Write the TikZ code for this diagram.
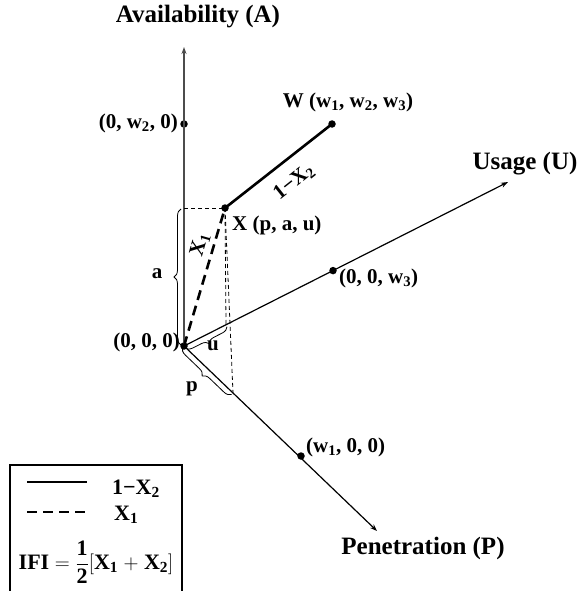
\documentclass[tikz,border=0pt]{standalone}
\usepackage{fontspec}
\setmainfont{Liberation Serif}
\usetikzlibrary{decorations.pathreplacing,arrows.meta,calc}
\tikzset{
  dot/.style={circle,fill=black,inner sep=0pt,minimum size=7.5pt},
  lab/.style={font=\fontsize{21}{24}\selectfont\bfseries,inner sep=1pt},
  biglab/.style={font=\fontsize{25}{28}\selectfont\bfseries,inner sep=1pt},
  leglab/.style={font=\fontsize{22}{25}\selectfont\bfseries,inner sep=1pt},
  axis/.style={line width=1.2pt,-{Stealth[length=7pt,width=5pt]}},
  proj/.style={line width=0.8pt,dash pattern=on 4pt off 3pt},
  vec/.style={line width=2.6pt},
  vecd/.style={line width=2.6pt,dash pattern=on 10pt off 6pt},
  brc/.style={decorate,decoration={brace,amplitude=7pt},line width=0.8pt},
}
\begin{document}
\begin{tikzpicture}[x=1pt,y=-1pt]
\useasboundingbox (0,0) rectangle (584,591);
% points
\node[dot] (O) at (184,346) {};
\node[dot] (W) at (332,124) {};
\node[dot] (X) at (225,208) {};
\node[dot] (A2) at (184,124) {};
\node[dot] (U3) at (333,270.6) {};
\node[dot] (P1) at (301,456) {};
\coordinate (Atip) at (184,47);
\coordinate (Utip) at (508,182);
\coordinate (Ptip) at (377,531);
\coordinate (Xa) at (184,208);
\coordinate (Xu) at (226,324.7);
\coordinate (Xp) at (233,393);
% axes
\draw[axis,draw=black!70,line width=1.6pt] (O.center) -- (Atip);
\draw[axis] (O.center) -- (Utip);
\draw[axis] (O.center) -- (Ptip);
% projections
\draw[proj] (Xa) -- (X.center);
\draw[proj] (X.center) -- (Xu);
\draw[proj] (X.center) -- (Xp);
% vectors
\draw[vec] (X.center) -- (W.center);
\draw[vecd] (O.center) -- (X.center);
% braces
\draw[brc] (181,345) -- (181,209);
\draw[brc] ($(Xu)+(1,2)$) -- ($(O.center)+(1,2)$);
\draw[brc] ($(Xp)+(-1.5,1.5)$) -- ($(O.center)+(-1.5,1.5)$);
% labels
\node[biglab] (Alab) at (198,17) {Availability (A)};
\node[biglab] (Ulab) at (525,164) {Usage (U)};
\node[biglab] (Plab) at (423,548) {Penetration (P)};
\node[lab,anchor=east] (A2lab) at (179,123) {(0, w\textsubscript{2}, 0)};
\node[lab] (Wlab) at (348,102) {W (w\textsubscript{1}, w\textsubscript{2}, w\textsubscript{3})};
\node[lab,anchor=west] (Xlab) at (231,225) {X (p, a, u)};
\node[lab,anchor=west] (U3lab) at (338,278) {(0, 0, w\textsubscript{3})};
\node[lab,anchor=west] (P1lab) at (305,447) {(w\textsubscript{1}, 0, 0)};
\node[lab,anchor=east] (Olab) at (181,342) {(0, 0, 0)};
\node[lab] (alab) at (157,274) {a};
\node[lab] (ulab) at (213,346) {u};
\node[lab] (plab) at (192,389) {p};
\node[lab,rotate=74] (x1lab) at (200,245) {X\textsubscript{1}};
\node[lab,rotate=38.5] (x2lab) at (294,182) {1−X\textsubscript{2}};
% legend
\draw[line width=2.2pt] (10,596) -- (10,465) -- (182,465) -- (182,596);
\coordinate (L1a) at (27,482); \coordinate (L1b) at (87,482);
\coordinate (L2a) at (27,512); \coordinate (L2b) at (87,512);
\draw[vec] (L1a) -- (L1b);
\draw[vecd] (L2a) -- (L2b);
\node[leglab,anchor=west] (leg1) at (111,489) {1−X\textsubscript{2}};
\node[leglab,anchor=west] (leg2) at (113,515) {X\textsubscript{1}};
\node[leglab] (leg3) at (96,562) {IFI $=\displaystyle\frac{\mbox{\bfseries 1}}{\mbox{\bfseries 2}}\Big[$X\textsubscript{1} $+$ X\textsubscript{2}$\Big]$};
\end{tikzpicture}
\end{document}
